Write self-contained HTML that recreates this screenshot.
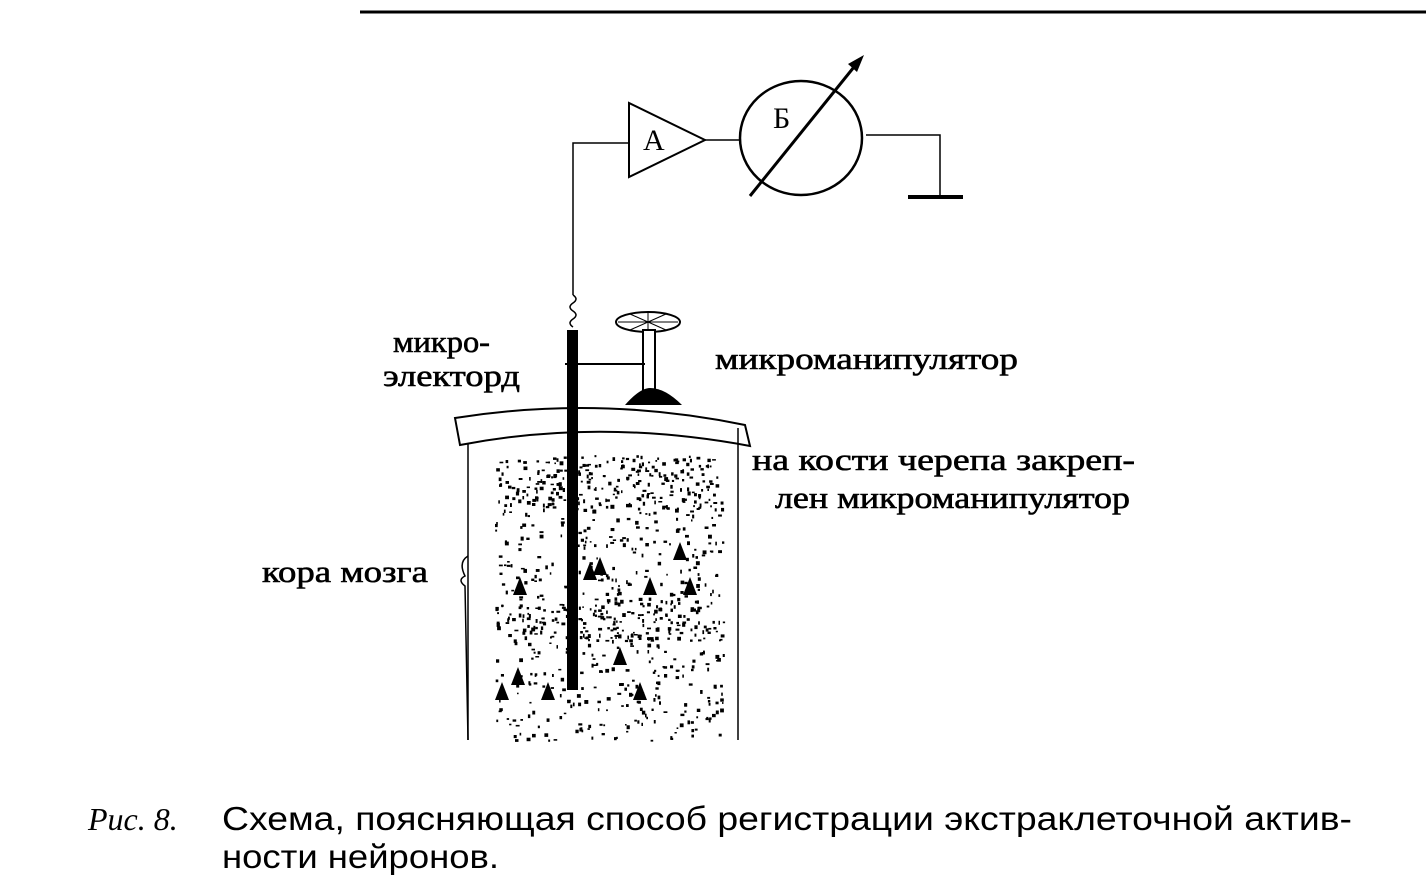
<!DOCTYPE html>
<html><head><meta charset="utf-8"><style>
html,body{margin:0;padding:0;background:#fff;width:1426px;height:890px;overflow:hidden}
svg text{fill:#000}
</style></head><body>
<svg id="s" width="1426" height="890" viewBox="0 0 1426 890" xmlns="http://www.w3.org/2000/svg">
<line x1="360" y1="12" x2="1426" y2="12" stroke="#000" stroke-width="3"/>
<polygon points="629,103 629,177 705,140" fill="none" stroke="#000" stroke-width="2"/>
<text x="643" y="150" font-family="Liberation Serif, serif" font-size="30">А</text>
<polyline points="629,143 573,143 573,295" fill="none" stroke="#000" stroke-width="1.5"/>
<path d="M573,295 q6,4 0,8 q-6,4 0,8 q6,4 0,8 q-6,4 0,8" fill="none" stroke="#000" stroke-width="1.5"/>
<line x1="705" y1="140" x2="740" y2="140" stroke="#000" stroke-width="1.5"/>
<ellipse cx="801" cy="138" rx="61" ry="57" fill="none" stroke="#000" stroke-width="2.5"/>
<text x="773" y="128" font-family="Liberation Serif, serif" font-size="30">Б</text>
<line x1="750" y1="196" x2="858" y2="62" stroke="#000" stroke-width="3"/>
<polygon points="864,55 848,64 857,72" fill="#000"/>
<polyline points="866,135 940,135 940,196" fill="none" stroke="#000" stroke-width="1.5"/>
<line x1="908" y1="197" x2="963" y2="197" stroke="#000" stroke-width="4"/>
<path d="M455,418 Q600,395 745,425 L750,446 Q600,418 460,445 Z" fill="#fff" stroke="#000" stroke-width="2"/>
<line x1="468" y1="444" x2="468" y2="740" stroke="#000" stroke-width="1.5"/>
<line x1="738" y1="428" x2="738" y2="740" stroke="#000" stroke-width="1.5"/>
<g id="dots"></g>
<path d="M468,556 q-10,6 -3,20 q-8,4 0,10 L468,740" fill="none" stroke="#000" stroke-width="1.5"/>
<rect x="567" y="330" width="11" height="360" fill="#000"/>
<ellipse cx="648" cy="322" rx="32" ry="10" fill="#fff" stroke="#000" stroke-width="2"/>
<g stroke="#000" stroke-width="1"><line x1="618" y1="322" x2="678" y2="322"/><line x1="630" y1="314" x2="666" y2="330"/><line x1="666" y1="314" x2="630" y2="330"/><line x1="648" y1="312" x2="648" y2="332"/></g>
<rect x="643" y="330" width="12" height="62" fill="#fff" stroke="#000" stroke-width="2"/>
<line x1="565" y1="364" x2="645" y2="364" stroke="#000" stroke-width="2"/>
<path d="M625,405 Q640,388 650,388 Q665,388 682,405 Z" fill="#000"/>
<g font-family="Liberation Serif, serif" font-size="31" stroke="#000" stroke-width="0.6" lengthAdjust="spacingAndGlyphs">
<text x="393" y="352" textLength="97" lengthAdjust="spacingAndGlyphs">микро-</text>
<text x="383" y="386" textLength="137" lengthAdjust="spacingAndGlyphs">электорд</text>
<text x="715" y="369" textLength="303" lengthAdjust="spacingAndGlyphs">микроманипулятор</text>
<text x="752" y="470" textLength="383" lengthAdjust="spacingAndGlyphs">на кости черепа закреп-</text>
<text x="775" y="508" textLength="355" lengthAdjust="spacingAndGlyphs">лен микроманипулятор</text>
<text x="262" y="582" textLength="166" lengthAdjust="spacingAndGlyphs">кора мозга</text>
</g>
<text x="88" y="830" font-family="Liberation Serif, serif" font-style="italic" font-size="32">Рис. 8.</text>
<text x="222" y="830" font-family="Liberation Sans, sans-serif" font-size="33" textLength="1130" lengthAdjust="spacingAndGlyphs">Схема, поясняющая способ регистрации экстраклеточной актив-</text>
<text x="222" y="868" font-family="Liberation Sans, sans-serif" font-size="33" textLength="277" lengthAdjust="spacingAndGlyphs">ности нейронов.</text>
</svg>
<script>
var g=document.getElementById('dots'),s=12345,h='';
function r(){s=(s*16807)%2147483647;return s/2147483647;}
for(var i=0;i<1500;i++){var x=495+r()*228,y=455+r()*285;
 var dense=(y<510)||(y>600&&y<640);
 if(!dense&&r()<0.6)continue;
 h+='<rect x="'+x.toFixed(1)+'" y="'+y.toFixed(1)+'" width="'+(1.5+r()*2.5).toFixed(1)+'" height="'+(1.5+r()*2.5).toFixed(1)+'" fill="#000"/>';}
var n=[[520,595],[600,575],[650,595],[690,595],[620,665],[518,685],[548,700],[640,700],[502,700],[590,580],[680,560]];
n.forEach(function(p){h+='<polygon points="'+p[0]+','+(p[1]-18)+' '+(p[0]-7)+','+p[1]+' '+(p[0]+7)+','+p[1]+'" fill="#000"/>';});
g.innerHTML=h;
</script>
</body></html>
